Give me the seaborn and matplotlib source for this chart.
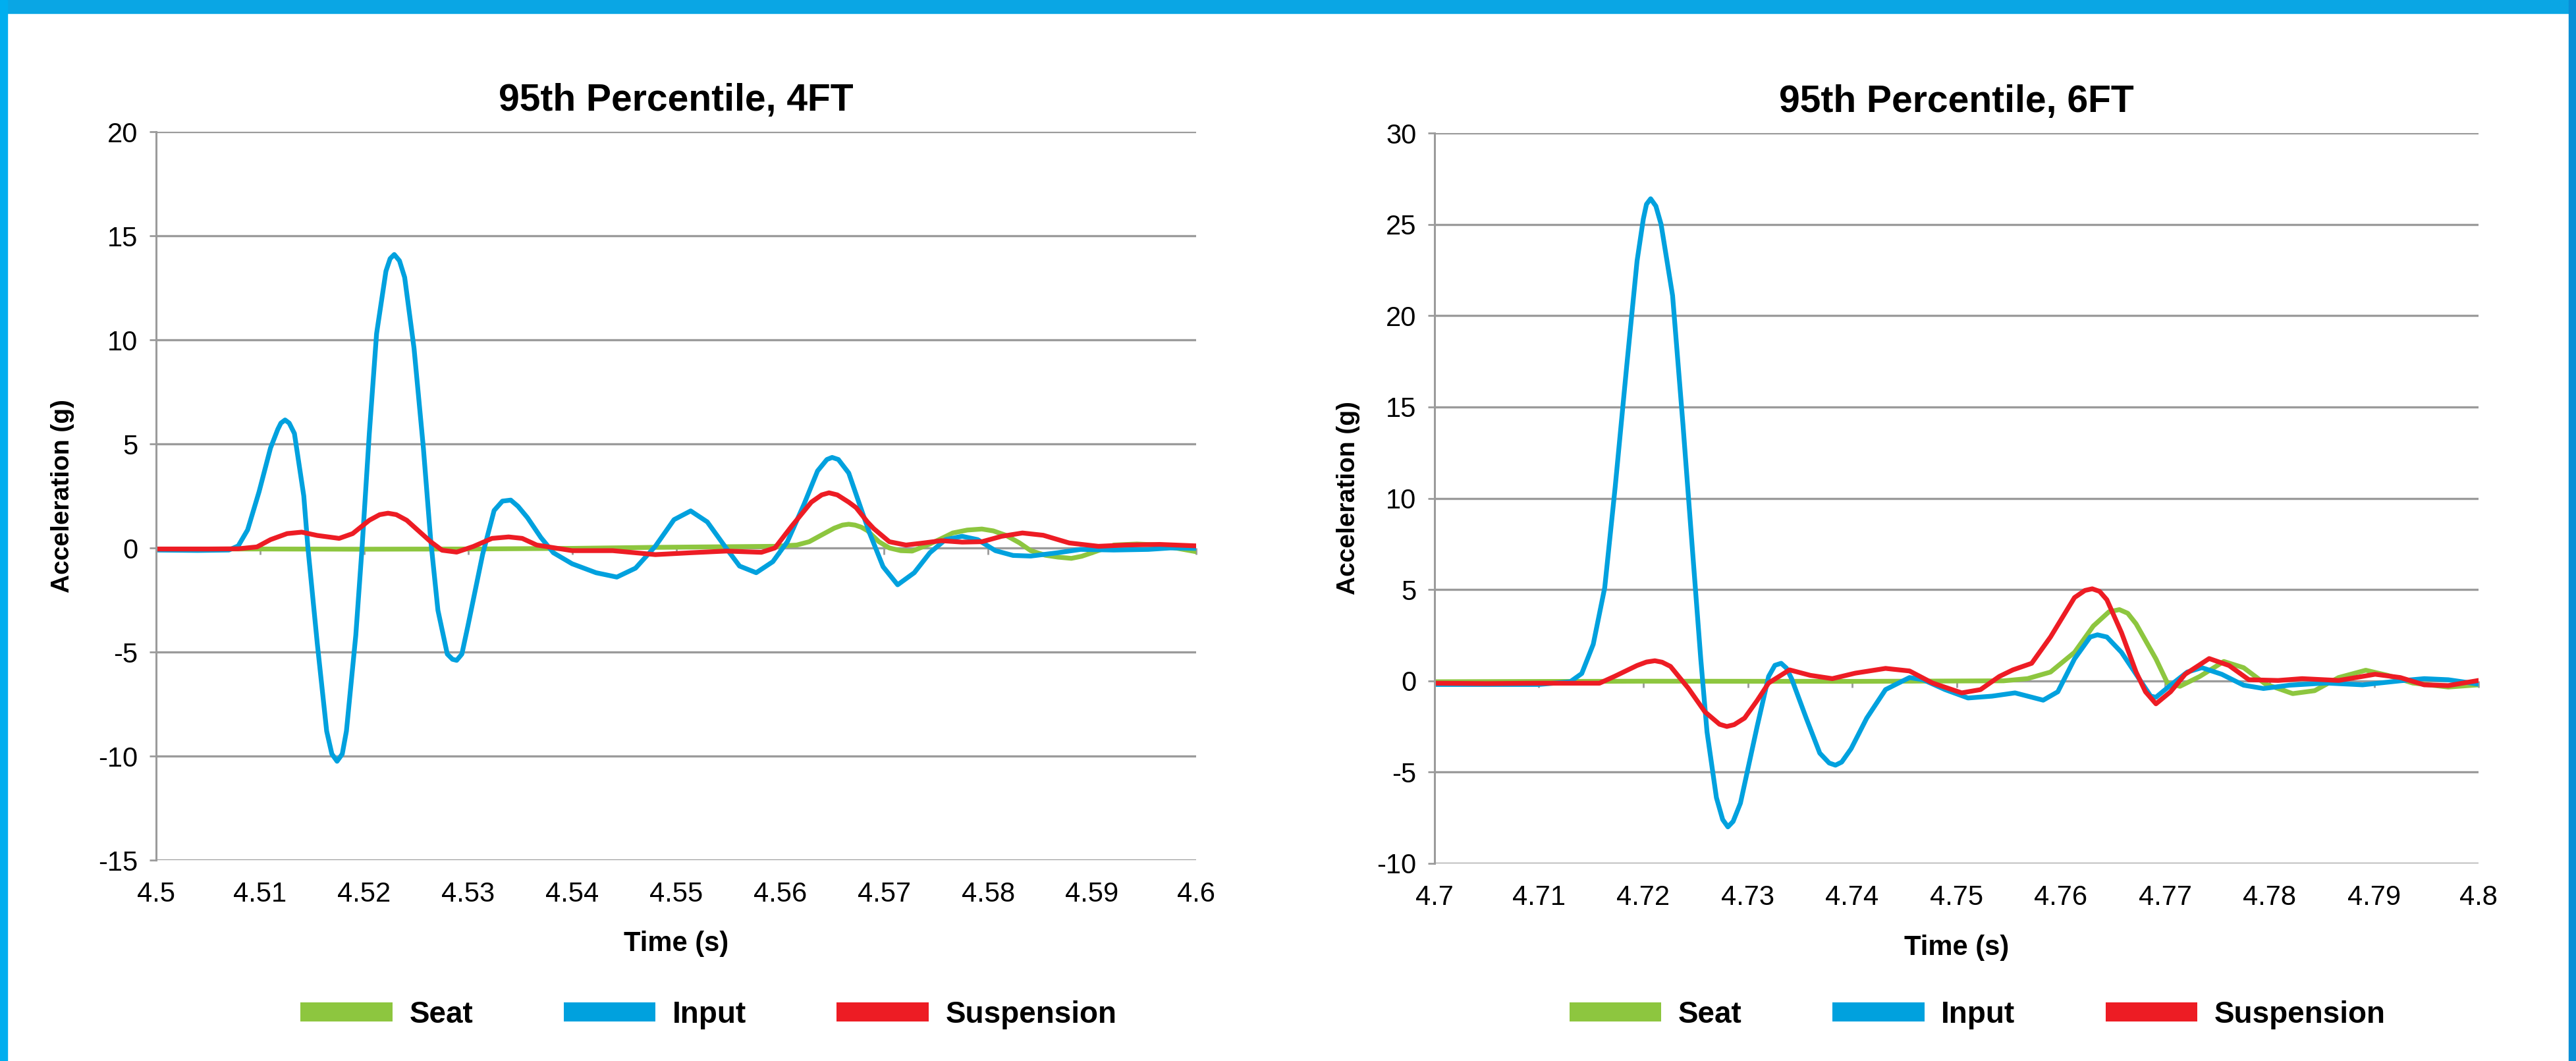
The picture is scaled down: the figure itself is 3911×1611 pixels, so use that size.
import matplotlib
matplotlib.use("Agg")
import pandas as pd
import matplotlib.pyplot as plt
import matplotlib.patches as mpatches
import seaborn as sns

# ---- 95th percentile, 4FT ----
t4_seat = [4.500, 4.510, 4.520, 4.530, 4.540, 4.548, 4.555, 4.5595, 4.5616, 4.5628,
           4.5639, 4.5652, 4.5660, 4.5666, 4.5672, 4.5678, 4.5684, 4.5695, 4.5705, 4.5716,
           4.5727, 4.5744, 4.5755, 4.5766, 4.5780, 4.5794, 4.5805, 4.5817, 4.5830, 4.5841,
           4.5855, 4.5867, 4.5880, 4.5890, 4.5900, 4.5921, 4.5943, 4.5965, 4.5980, 4.6000]
a4_seat = [-0.05, -0.05, -0.06, -0.05, -0.02, 0.03, 0.06, 0.08, 0.14, 0.30,
           0.60, 0.95, 1.10, 1.14, 1.10, 1.00, 0.83, 0.30, 0.00, -0.13,
           -0.15, 0.19, 0.45, 0.72, 0.86, 0.91, 0.82, 0.61, 0.25, -0.13,
           -0.35, -0.44, -0.50, -0.40, -0.23, 0.14, 0.19, 0.14, 0.00, -0.18]

t4_input = [4.500, 4.504, 4.507, 4.5079, 4.5088, 4.5099, 4.5110, 4.5117, 4.5120, 4.5124,
            4.5128, 4.5133, 4.5142, 4.5146, 4.5155, 4.5164, 4.5169, 4.5174, 4.5179, 4.5183,
            4.5192, 4.5198, 4.5205, 4.5212, 4.5221, 4.5225, 4.5229, 4.5234, 4.5239, 4.5248,
            4.5257, 4.5264, 4.5271, 4.5280, 4.5285, 4.5289, 4.5294, 4.5300, 4.5314, 4.5325,
            4.5333, 4.5341, 4.5348, 4.5357, 4.5370, 4.5382, 4.5400, 4.5423, 4.5443, 4.5461,
            4.5480, 4.5498, 4.5514, 4.5530, 4.5548, 4.5561, 4.5577, 4.5593, 4.5607, 4.5623,
            4.5636, 4.5645, 4.5650, 4.5656, 4.5666, 4.5680, 4.5686, 4.5699, 4.5713, 4.5729,
            4.5744, 4.5759, 4.5775, 4.5790, 4.5807, 4.5824, 4.5841, 4.5867, 4.5889, 4.5921,
            4.5954, 4.5975, 4.6000]
a4_input = [-0.10, -0.12, -0.10, 0.10, 0.87, 2.70, 4.80, 5.70, 6.00, 6.15,
            6.00, 5.50, 2.50, 0.00, -4.60, -8.80, -9.90, -10.25, -9.90, -8.80,
            -4.20, 0.00, 5.50, 10.30, 13.30, 13.90, 14.10, 13.80, 13.00, 9.60,
            4.80, 0.40, -3.00, -5.10, -5.35, -5.40, -5.10, -3.70, -0.30, 1.80,
            2.25, 2.30, 2.00, 1.46, 0.50, -0.23, -0.76, -1.19, -1.40, -0.97,
            0.08, 1.36, 1.78, 1.25, 0.00, -0.87, -1.19, -0.66, 0.30, 2.10,
            3.70, 4.25, 4.35, 4.25, 3.60, 1.57, 0.72, -0.90, -1.77, -1.19,
            -0.23, 0.40, 0.56, 0.40, -0.13, -0.36, -0.39, -0.23, -0.07, -0.10,
            -0.07, 0.00, -0.02]

t4_susp = [4.500, 4.505, 4.5079, 4.5097, 4.5110, 4.5126, 4.5140, 4.5155, 4.5176, 4.5189,
           4.5205, 4.5215, 4.5223, 4.5231, 4.5241, 4.5264, 4.5275, 4.5289, 4.5305, 4.5323,
           4.5339, 4.5352, 4.5366, 4.5400, 4.5439, 4.5480, 4.5514, 4.5548, 4.5582, 4.5595,
           4.5611, 4.5630, 4.5640, 4.5647, 4.5655, 4.5666, 4.5673, 4.5684, 4.5690, 4.5705,
           4.5721, 4.5738, 4.5755, 4.5775, 4.5794, 4.5813, 4.5833, 4.5853, 4.5878, 4.5906,
           4.5932, 4.5965, 4.6000]
a4_susp = [-0.05, -0.05, -0.04, 0.05, 0.40, 0.69, 0.76, 0.60, 0.46, 0.69,
           1.33, 1.60, 1.67, 1.60, 1.33, 0.30, -0.11, -0.20, 0.07, 0.46,
           0.53, 0.46, 0.14, -0.13, -0.13, -0.32, -0.23, -0.15, -0.21, 0.00,
           1.04, 2.20, 2.55, 2.65, 2.55, 2.20, 1.94, 1.25, 0.93, 0.30,
           0.14, 0.24, 0.35, 0.28, 0.30, 0.56, 0.72, 0.61, 0.24, 0.08,
           0.14, 0.17, 0.10]

# ---- 95th percentile, 6FT ----
t6_seat = [4.700, 4.720, 4.740, 4.7545, 4.7568, 4.7590, 4.7613, 4.7631, 4.7646, 4.7656,
           4.7664, 4.7672, 4.7691, 4.7702, 4.7714, 4.7733, 4.7756, 4.7775, 4.7796, 4.7822,
           4.7843, 4.7866, 4.7892, 4.7913, 4.7937, 4.7971, 4.8000]
a6_seat = [-0.05, -0.02, -0.03, 0.00, 0.12, 0.48, 1.56, 3.00, 3.78, 3.90,
           3.70, 3.12, 1.20, -0.12, -0.30, 0.24, 1.06, 0.72, -0.18, -0.70,
           -0.54, 0.18, 0.58, 0.30, -0.12, -0.34, -0.22]

t6_input = [4.700, 4.705, 4.710, 4.7130, 4.7141, 4.7152, 4.7163, 4.7173, 4.7184, 4.7194,
            4.7200, 4.7203, 4.7207, 4.7212, 4.7217, 4.7228, 4.7238, 4.7247, 4.7255, 4.7261,
            4.7270, 4.7276, 4.7281, 4.7286, 4.7293, 4.7309, 4.7320, 4.7326, 4.7332, 4.7337,
            4.7342, 4.7356, 4.7369, 4.7378, 4.7384, 4.7390, 4.7399, 4.7414, 4.7432, 4.7455,
            4.7468, 4.7489, 4.7511, 4.7534, 4.7556, 4.7583, 4.7597, 4.7613, 4.7628, 4.7635,
            4.7644, 4.7658, 4.7672, 4.7686, 4.7691, 4.7705, 4.7721, 4.7735, 4.7754, 4.7775,
            4.7794, 4.7819, 4.7854, 4.7889, 4.7925, 4.7948, 4.7971, 4.8000]
a6_input = [-0.20, -0.20, -0.20, -0.05, 0.40, 2.00, 5.10, 10.60, 17.20, 23.00,
            25.30, 26.10, 26.40, 26.00, 25.00, 21.10, 14.00, 7.20, 1.20, -2.80,
            -6.40, -7.60, -8.00, -7.70, -6.70, -2.50, 0.24, 0.85, 0.96, 0.70,
            0.12, -2.04, -3.96, -4.50, -4.62, -4.45, -3.72, -2.04, -0.48, 0.18,
            0.06, -0.48, -0.94, -0.84, -0.66, -1.06, -0.60, 1.20, 2.40, 2.52,
            2.40, 1.56, 0.36, -0.84, -0.90, -0.24, 0.48, 0.72, 0.36, -0.24,
            -0.42, -0.24, -0.12, -0.22, 0.00, 0.12, 0.06, -0.18]

t6_susp = [4.700, 4.705, 4.710, 4.7158, 4.7173, 4.7194, 4.7203, 4.7211, 4.7218, 4.7226,
           4.7243, 4.7259, 4.7273, 4.7280, 4.7287, 4.7297, 4.7309, 4.7320, 4.7340, 4.7360,
           4.7381, 4.7403, 4.7432, 4.7455, 4.7477, 4.7505, 4.7523, 4.7541, 4.7554, 4.7572,
           4.7590, 4.7613, 4.7623, 4.7630, 4.7637, 4.7644, 4.7658, 4.7672, 4.7681, 4.7691,
           4.7705, 4.7719, 4.7742, 4.7761, 4.7780, 4.7808, 4.7831, 4.7866, 4.7901, 4.7925,
           4.7948, 4.7971, 4.8000]
a6_susp = [-0.13, -0.15, -0.13, -0.13, 0.26, 0.84, 1.03, 1.10, 1.02, 0.79,
           -0.40, -1.70, -2.38, -2.50, -2.40, -2.04, -1.08, -0.12, 0.60, 0.30,
           0.12, 0.42, 0.68, 0.54, -0.12, -0.66, -0.48, 0.24, 0.60, 0.96,
           2.40, 4.56, 4.95, 5.04, 4.90, 4.44, 2.64, 0.48, -0.60, -1.26,
           -0.60, 0.36, 1.22, 0.84, 0.06, 0.02, 0.12, 0.02, 0.36, 0.18,
           -0.22, -0.26, 0.02]

series_names = ["Seat", "Input", "Suspension"]
series_colors = ["#8DC63F", "#00A1DE", "#ED1C24"]

titles = ["95th Percentile, 4FT", "95th Percentile, 6FT"]
x_ticks_4 = [4.50, 4.51, 4.52, 4.53, 4.54, 4.55, 4.56, 4.57, 4.58, 4.59, 4.60]
x_labels_4 = ["4.5", "4.51", "4.52", "4.53", "4.54", "4.55", "4.56", "4.57", "4.58", "4.59", "4.6"]
x_ticks_6 = [4.70, 4.71, 4.72, 4.73, 4.74, 4.75, 4.76, 4.77, 4.78, 4.79, 4.80]
x_labels_6 = ["4.7", "4.71", "4.72", "4.73", "4.74", "4.75", "4.76", "4.77", "4.78", "4.79", "4.8"]
y_ticks_4 = [-15, -10, -5, 0, 5, 10, 15, 20]
y_ticks_6 = [-10, -5, 0, 5, 10, 15, 20, 25, 30]


def make_frame(parts):
    rows = []
    for name, (t, a) in zip(series_names, parts):
        rows.append(pd.DataFrame({"Time": t, "Accel": a, "Series": name}))
    return pd.concat(rows, ignore_index=True)


df4 = make_frame([(t4_seat, a4_seat), (t4_input, a4_input), (t4_susp, a4_susp)])
df6 = make_frame([(t6_seat, a6_seat), (t6_input, a6_input), (t6_susp, a6_susp)])

sns.set_theme(style="white")
plt.rcParams["font.family"] = ["Liberation Sans", "DejaVu Sans"]
plt.rcParams["axes.unicode_minus"] = False
plt.rcParams["text.color"] = "black"
plt.rcParams["axes.labelcolor"] = "black"
plt.rcParams["xtick.color"] = "black"
plt.rcParams["ytick.color"] = "black"

grid_col = "#9B9B9B"
W, H = 3912, 1611
fig = plt.figure(figsize=(W / 100, H / 100), dpi=100)
fig.patch.set_facecolor("white")

# blue frame of the page
fig.patches.append(mpatches.Rectangle((0, 1 - 20 / H), 1, 20 / H, transform=fig.transFigure,
                                      color="#0AA6E4", zorder=-5))
fig.patches.append(mpatches.Rectangle((0, 0), 11 / W, 1, transform=fig.transFigure,
                                      color="#00AEEF", zorder=-5))
fig.patches.append(mpatches.Rectangle((1 - 12 / W, 0), 12 / W, 1, transform=fig.transFigure,
                                      color="#0A8FD6", zorder=-5))

ax_l = fig.add_axes([237 / W, 1 - 1306 / H, (1816 - 237) / W, (1306 - 200) / H])
ax_r = fig.add_axes([2178 / W, 1 - 1311 / H, (3763 - 2178) / W, (1311 - 202) / H])

setup = [
    (ax_l, df4, titles[0], x_ticks_4, x_labels_4, y_ticks_4, -0.0785, 0.275),
    (ax_r, df6, titles[1], x_ticks_6, x_labels_6, y_ticks_6, -0.0715, 0.7674),
]

for ax, df, title, xt, xl, yt, ylab_x, leg_x in setup:
    sns.lineplot(data=df, x="Time", y="Accel", hue="Series", hue_order=series_names,
                 palette=series_colors, estimator=None, sort=True, linewidth=5.2,
                 ax=ax, legend=False)
    for ln in ax.get_lines():
        ln.set_solid_joinstyle("round")
        ln.set_solid_capstyle("round")

    ax.set_xlim(xt[0], xt[-1])
    ax.set_ylim(yt[0], yt[-1])
    ax.set_xticks(xt, xl)
    ax.set_yticks(yt, [str(v) for v in yt])
    ax.yaxis.grid(True, color=grid_col, linewidth=2.4)
    ax.xaxis.grid(False)
    ax.set_axisbelow(True)
    for s in ["top", "right", "bottom"]:
        ax.spines[s].set_visible(False)
    ax.spines["left"].set_color(grid_col)
    ax.spines["left"].set_linewidth(2.2)

    ax.tick_params(axis="x", length=0, pad=23, labelsize=30, labelcolor="black")
    ax.tick_params(axis="y", length=7, width=2, color=grid_col, pad=13,
                   labelsize=30, labelcolor="black", left=True)

    # small tick marks on the zero line
    zero_pos = (0 - yt[0]) / (yt[-1] - yt[0])
    sec = ax.secondary_xaxis(zero_pos)
    sec.set_xticks(xt)
    sec.tick_params(axis="x", length=7, width=2, color=grid_col, direction="out",
                    labelbottom=False, labeltop=False)
    for s in sec.spines.values():
        s.set_visible(False)

    ax.set_title(title, fontsize=41, fontweight="bold", pad=23, color="black")
    ax.set_xlabel("Time (s)", fontsize=30, fontweight="bold", color="black")
    ax.set_ylabel("Acceleration (g)", fontsize=28, fontweight="bold", color="black")
    ax.xaxis.set_label_coords(0.5, -0.097)
    ax.yaxis.set_label_coords(ylab_x, 0.5)

    handles = [mpatches.Patch(facecolor=c, edgecolor="none", label=n)
               for n, c in zip(series_names, series_colors)]
    leg = ax.legend(handles=handles, loc="center", bbox_to_anchor=(leg_x, 1 - 1541 / H),
                    bbox_transform=fig.transFigure, ncol=3, frameon=False,
                    prop={"weight": "bold", "size": 33}, handlelength=3.05,
                    handleheight=0.6, handletextpad=0.55, columnspacing=3.0)
    for txt in leg.get_texts():
        txt.set_color("black")

fig.savefig("out.png", dpi=100, facecolor="white")
